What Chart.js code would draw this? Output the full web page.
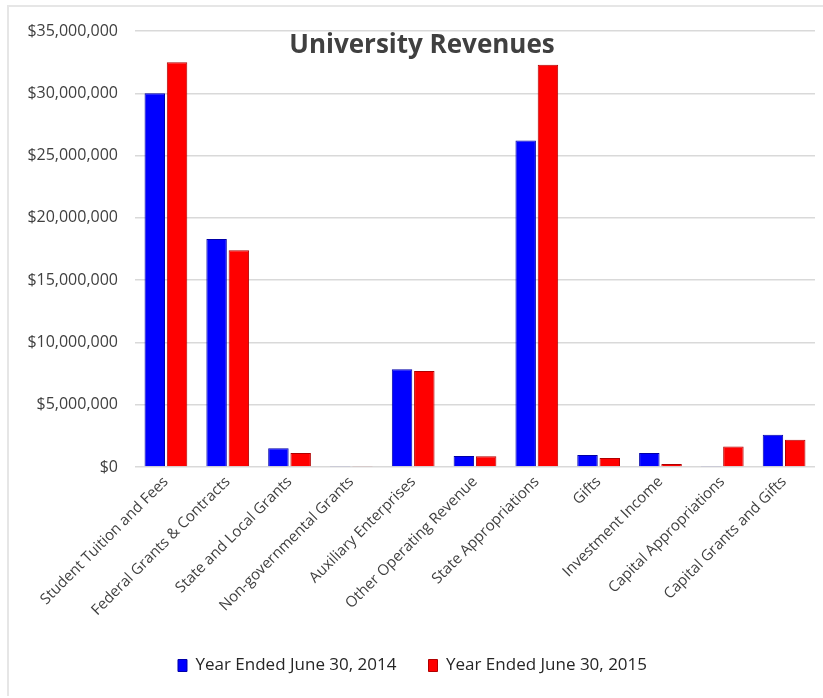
<!DOCTYPE html>
<html>
<head>
<meta charset="utf-8">
<script src="https://cdn.jsdelivr.net/npm/chart.js@4"></script>
<style>
  html, body { margin: 0; padding: 0; background: #fff; }
  #wrap { width: 823px; height: 698px; position: relative; }
</style>
</head>
<body>
<div id="wrap"><canvas id="chart"></canvas></div>
<script>
const CATEGORIES = [
  'Student Tuition and Fees',
  'Federal Grants & Contracts',
  'State and Local Grants',
  'Non-governmental Grants',
  'Auxiliary Enterprises',
  'Other Operating Revenue',
  'State Appropriations',
  'Gifts',
  'Investment Income',
  'Capital Appropriations',
  'Capital Grants and Gifts',
];

const FY2014 = [30000000, 18300000, 1500000, 80000, 7850000, 880000, 26200000, 960000, 1130000, 80000, 2580000];
const FY2015 = [32500000, 17400000, 1120000, 80000, 7700000, 860000, 32300000, 720000, 240000, 1650000, 2180000];

const Y_MIN = 0;
const Y_MAX = 35000000;
const Y_STEP = 5000000;

const BLUE = '#0000FF';
const RED = '#FF0000';
const TEXT = '#404040';
const GRID = '#D9D9D9';
const FONT = '"Open Sans", "Liberation Sans", sans-serif';

// title sits inside the plot area, plus the thin frame at top/left
const decor = {
  id: 'decor',
  beforeDraw(chart) {
    const ctx = chart.ctx;
    ctx.save();
    ctx.strokeStyle = '#E6E6E6';
    ctx.lineWidth = 2;
    ctx.beginPath();
    ctx.moveTo(8, 696);
    ctx.lineTo(8, 6);
    ctx.lineTo(823, 6);
    ctx.stroke();
    ctx.restore();
  },
  afterDraw(chart) {
    const ctx = chart.ctx;
    ctx.save();
    ctx.font = 'bold 26px ' + FONT;
    ctx.fillStyle = '#404040';
    ctx.textAlign = 'center';
    ctx.textBaseline = 'middle';
    ctx.fillText('University Revenues', 422, 46);
    ctx.restore();
  },
};

new Chart(document.getElementById('chart'), {
  type: 'bar',
  data: {
    labels: CATEGORIES,
    datasets: [
      {
        label: 'Year Ended June 30, 2014',
        data: FY2014,
        backgroundColor: BLUE,
        borderColor: '#0000A8',
        borderWidth: 1,
        categoryPercentage: 0.72,
        barPercentage: 0.92,
      },
      {
        label: 'Year Ended June 30, 2015',
        data: FY2015,
        backgroundColor: RED,
        borderColor: '#B00000',
        borderWidth: 1,
        categoryPercentage: 0.72,
        barPercentage: 0.92,
      },
    ],
  },
  options: {
    responsive: true,
    maintainAspectRatio: false,
    animation: false,
    layout: { padding: { left: 10, top: 31, right: 8, bottom: 14 } },
    plugins: {
      legend: {
        position: 'bottom',
        labels: {
          color: '#262626',
          font: { family: FONT, size: 17 },
          boxWidth: 9,
          boxHeight: 12,
          padding: 32,
        },
      },
      tooltip: { enabled: false },
    },
    scales: {
      x: {
        grid: { display: false, drawTicks: false },
        border: { display: false },
        ticks: {
          color: TEXT,
          font: { family: FONT, size: 15 },
          minRotation: 45,
          maxRotation: 45,
          padding: 6,
          autoSkip: false,
        },
        afterFit(scale) { scale.height = 158; },
      },
      y: {
        min: Y_MIN,
        max: Y_MAX,
        grid: { color: GRID, lineWidth: 1.5, drawTicks: false },
        border: { display: false },
        ticks: {
          stepSize: Y_STEP,
          color: TEXT,
          padding: 17,
          font: { family: FONT, size: 16 },
          callback: v => '$' + v.toLocaleString('en-US'),
        },
        afterFit(scale) { scale.width = 125; },
      },
    },
  },
  plugins: [decor],
});
</script>
</body>
</html>
